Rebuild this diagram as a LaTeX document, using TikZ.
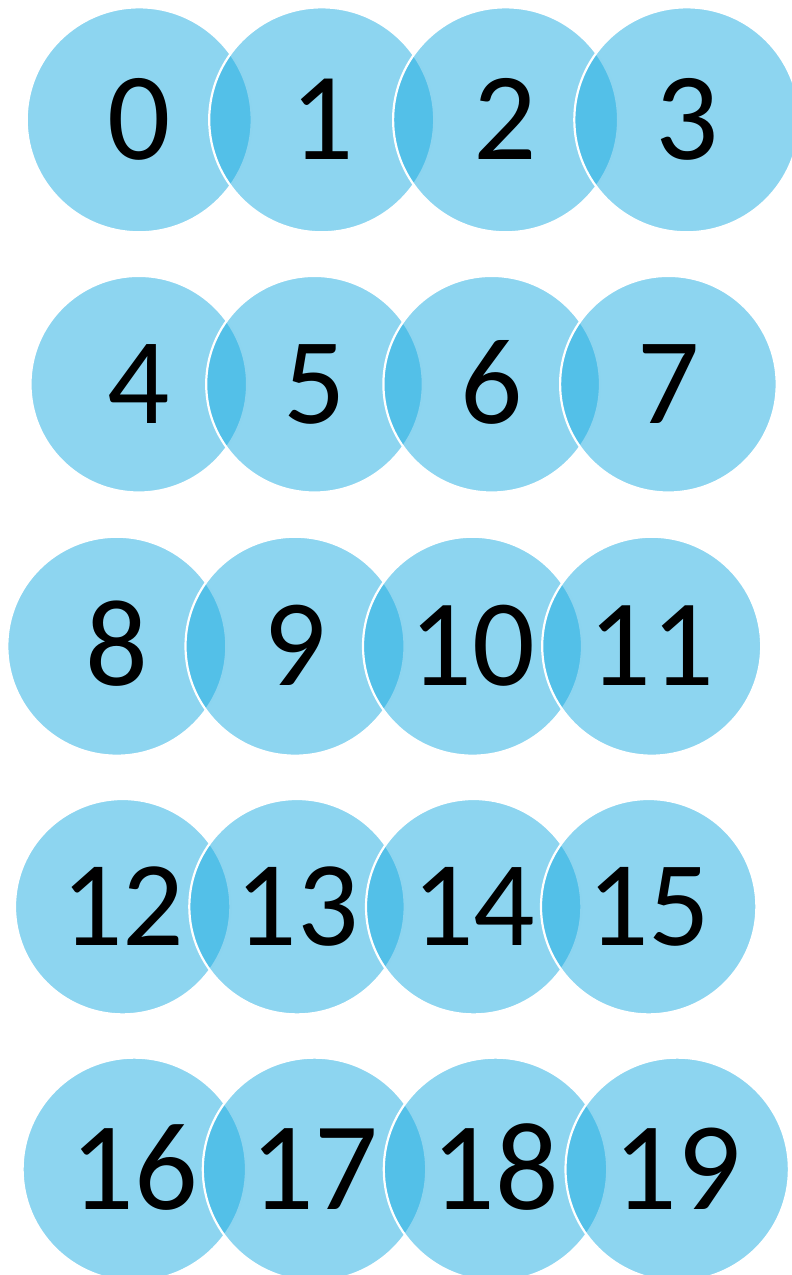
\documentclass[tikz,border=0pt]{standalone}
\usepackage{fontspec}
\setmainfont{Carlito}
\definecolor{discblue}{RGB}{27,171,225}
\tikzset{
  disc/.style={circle, inner sep=0pt, fill=discblue, fill opacity=0.5, draw=white, line width=2.2pt},
  numlabel/.style={anchor=base, text=black, inner sep=0pt}
}
\begin{document}
\begin{tikzpicture}[x=1pt,y=-1pt]
\useasboundingbox (0,0) rectangle (792,1275);
\clip (0,0) rectangle (792,1275);
\foreach \row/\cy/\r/\h/\xa/\xb/\xc/\xd in {
  0/119.8/112.5/79/139.2/321.7/505.6/686.8,
  1/384.2/108.3/77.7/138.8/314.5/491.7/668.4,
  2/646.2/109.5/78.3/116.8/295/472.5/651.7,
  3/906.7/107.7/76.7/122.7/297/473.7/648.7,
  4/1169.3/111.7/79.4/134.3/314.5/495.5/677.2}{
  \foreach \x [count=\i from 0] in {\xa,\xb,\xc,\xd}{
    \pgfmathtruncatemacro\n{4*\row+\i}
    \node[disc, minimum size={2*\r pt}] (c\n) at (\x,\cy) {};
  }
}
\foreach \row/\cy/\h/\xa/\xb/\xc/\xd in {
  0/119.8/79/139.2/321.7/505.6/686.8,
  1/384.2/77.7/138.8/314.5/491.7/668.4,
  2/646.2/78.3/116.8/295/472.5/651.7,
  3/906.7/76.7/122.7/297/473.7/648.7,
  4/1169.3/79.4/134.3/314.5/495.5/677.2}{
  \foreach \x [count=\i from 0] in {\xa,\xb,\xc,\xd}{
    \pgfmathtruncatemacro\n{4*\row+\i}
    \pgfmathsetmacro\fs{\h/0.632}
    \pgfmathsetmacro\by{\cy+\h/2}
    \node[numlabel, font=\fontsize{\fs}{\fs}\selectfont] (t\n) at (\x,\by) {\n};
  }
}
\end{tikzpicture}
\end{document}
